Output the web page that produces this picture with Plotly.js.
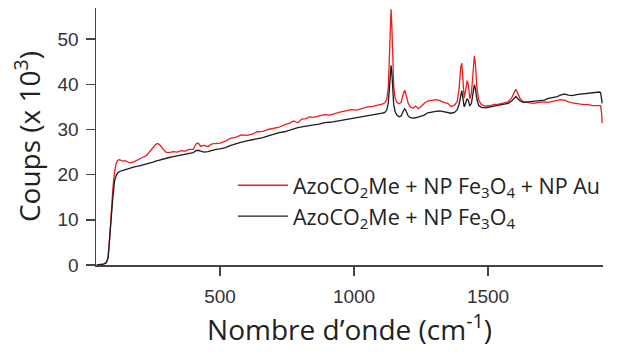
<!DOCTYPE html>
<html><head><meta charset="utf-8">
<script src="https://cdn.plot.ly/plotly-3.0.1.min.js"></script>
<style>html,body{margin:0;padding:0;background:#fff}#c{width:620px;height:353px}</style>
</head><body><div id="c"></div>
<script>
const wavenumber = [40,55,65,75,82,88,94,100,106,112,118,125,135,145,155,165,180,195,210,225,240,250,260,268,278,288,298,310,325,340,355,370,385,400,410,418,428,440,455,470,485,500,520,540,560,580,600,620,640,660,680,700,720,740,760,775,790,805,820,835,850,870,890,910,930,950,970,990,1010,1030,1050,1070,1090,1105,1115,1122,1128,1132,1136,1138,1141,1144,1148,1153,1160,1168,1176,1183,1189,1195,1202,1210,1220,1230,1240,1250,1262,1275,1290,1305,1320,1335,1350,1362,1375,1385,1392,1398,1402,1406,1411,1416,1422,1426,1432,1438,1444,1449,1453,1458,1465,1475,1490,1505,1520,1540,1560,1575,1588,1597,1604,1611,1620,1632,1650,1670,1690,1710,1725,1740,1755,1770,1785,1800,1815,1830,1845,1860,1875,1890,1905,1915,1920,1924,1926];
const countsAu = [0.0,0.1,0.2,0.5,1.5,6,12,17,20.5,22.5,23.2,23.3,23.0,23.1,22.8,22.6,22.9,23.4,23.8,24.2,25.2,26.0,26.7,26.9,26.4,25.6,25.0,24.9,25.1,25.0,25.3,25.2,25.6,25.6,26.8,27.0,26.3,26.5,26.2,26.8,26.9,27.0,27.4,28.1,28.3,28.8,28.7,29.0,29.5,29.6,30.0,30.3,30.5,31.0,31.4,31.9,31.5,32.3,32.4,32.8,32.7,33.0,33.3,33.2,33.6,33.9,34.1,34.4,34.3,34.7,35.0,35.1,35.3,35.6,35.9,36.6,39.5,46,54,56.6,53,45,39.5,37.0,36.0,35.7,36.0,37.8,38.7,37.5,35.8,35.0,34.7,35.2,34.6,35.1,35.8,36.3,36.5,36.6,36.4,36.0,35.8,35.1,35.4,36.2,39.0,43.8,44.7,41.5,37.0,38.5,40.8,40.0,36.8,38.0,43.5,46.3,44.5,39.5,36.5,35.5,35.2,35.2,35.5,35.6,35.9,36.1,37.0,38.3,38.9,38.0,36.8,36.1,35.9,35.8,36.0,36.1,36.0,36.2,36.3,36.6,36.5,36.1,35.9,35.7,35.6,35.5,35.5,35.3,35.3,35.4,35.3,33.5,31.4];
const countsFe = [0.0,0.1,0.2,0.5,1.5,6,11,15,18.5,19.8,20.4,20.7,20.9,21.1,21.3,21.5,21.7,21.9,22.1,22.4,22.6,22.8,23.0,23.1,23.3,23.4,23.6,23.8,24.0,24.2,24.3,24.5,24.7,24.9,25.3,25.4,25.2,25.0,25.1,25.4,25.6,25.7,26.0,26.5,26.9,27.2,27.5,27.7,28.0,28.2,28.6,29.0,29.3,29.5,29.9,30.2,30.4,30.6,30.7,30.8,31.0,31.2,31.5,31.6,31.8,32.0,32.2,32.3,32.5,32.8,32.9,33.2,33.4,33.6,33.8,34.3,36.0,39.5,43.0,44.2,42.5,38.5,35.5,34.0,33.2,32.8,33.0,34.0,34.6,34.0,33.0,32.6,32.5,32.6,32.8,32.9,33.2,33.7,33.9,34.0,34.1,33.9,33.8,33.6,33.8,34.4,35.6,37.8,38.6,37.0,35.0,35.8,36.8,36.5,35.2,35.8,38.5,39.9,39.0,36.8,35.3,34.9,34.8,35.0,35.2,35.3,35.6,35.8,36.3,37.0,37.3,36.8,36.3,36.0,36.1,36.2,36.3,36.5,36.9,37.1,37.2,37.6,37.9,37.6,37.5,37.7,37.8,37.9,38.0,38.2,38.3,38.3,38.2,36.0,35.8];
const seriesNames = ["AzoCO<sub>2</sub>Me + NP Fe<sub>3</sub>O<sub>4</sub> + NP Au", "AzoCO<sub>2</sub>Me + NP Fe<sub>3</sub>O<sub>4</sub>"];
const xTicks = [500, 1000, 1500];
const yTicks = [0, 10, 20, 30, 40, 50];

const traces = [
  {x: wavenumber, y: countsAu, name: seriesNames[0], type: 'scatter', mode: 'lines', line: {color: '#f21b1b', width: 1.3}},
  {x: wavenumber, y: countsFe, name: seriesNames[1], type: 'scatter', mode: 'lines', line: {color: '#1c1c1c', width: 1.3}}
];
const axisFont = {family: 'Liberation Sans, Arial, sans-serif', size: 19, color: '#333'};
const titleFont = {family: 'Open Sans, sans-serif', size: 28, color: '#222'};
const layout = {
  width: 620, height: 353,
  margin: {l: 96, r: 17, t: 8, b: 88},
  paper_bgcolor: '#fff', plot_bgcolor: '#fff',
  showlegend: true,
  legend: {x: 0.270, y: 0.39, xanchor: 'left', yanchor: 'top', bgcolor: 'rgba(0,0,0,0)', itemwidth: 50,
           font: {family: 'Open Sans, sans-serif', size: 21.5, color: '#222'}},
  xaxis: {range: [37, 1929], tickvals: xTicks, ticktext: xTicks.map(String), showgrid: false, zeroline: false,
          showline: true, linecolor: '#444', linewidth: 1.5, ticks: 'outside', ticklen: 9, tickwidth: 1.5, tickcolor: '#444',
          tickfont: axisFont, automargin: false, ticklabelstandoff: 5,
          title: {text: 'Nombre d’onde (cm<sup>-1</sup>)', font: titleFont, standoff: 10}},
  yaxis: {range: [0, 56.9], tickvals: yTicks, ticktext: yTicks.map(String), showgrid: false, zeroline: false,
          showline: true, linecolor: '#444', linewidth: 1.5, ticks: 'outside', ticklen: 9, tickwidth: 1.5, tickcolor: '#444',
          tickfont: axisFont, automargin: false, ticklabelstandoff: 3,
          title: {text: 'Coups (x 10<sup>3</sup>)', font: titleFont, standoff: 9}}
};
Plotly.newPlot('c', traces, layout, {displayModeBar: false, staticPlot: true});
</script></body></html>
